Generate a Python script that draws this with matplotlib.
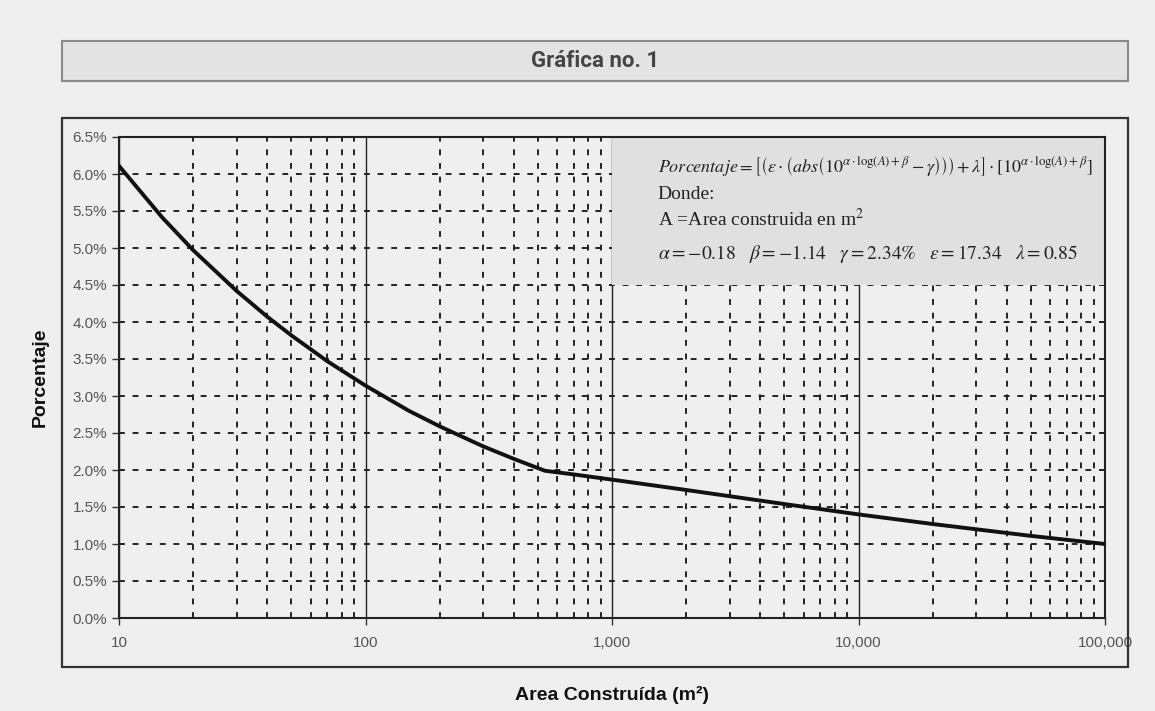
import matplotlib
matplotlib.use("Agg")
import matplotlib.pyplot as plt
from matplotlib.patches import Rectangle
from matplotlib.ticker import FixedLocator, FuncFormatter, NullFormatter

plt.rcParams['mathtext.fontset'] = 'stix'
plt.rcParams['font.family'] = ['Liberation Sans', 'DejaVu Sans']

# valores
area = [10, 15, 20, 30, 40, 50, 70, 100, 150, 200, 300, 400, 534,
        700, 1000, 2000, 5000, 10000, 20000, 50000, 100000]
porcentaje = [6.11, 5.41, 4.97, 4.42, 4.07, 3.82, 3.47, 3.14, 2.80, 2.59, 2.32, 2.15, 1.99,
              1.94, 1.87, 1.73, 1.54, 1.40, 1.27, 1.11, 1.00]

y_ticks = [0.0, 0.5, 1.0, 1.5, 2.0, 2.5, 3.0, 3.5, 4.0, 4.5, 5.0, 5.5, 6.0, 6.5]
x_major = [10, 100, 1000, 10000, 100000]
x_minor = [m * d for d in [10, 100, 1000, 10000] for m in range(2, 10)]

bg = '#efefef'
fig = plt.figure(figsize=(11.55, 7.11), dpi=100, facecolor=bg)

W, H = 1155, 711
def fx(px):
    return px / W
def fy(py):
    return 1 - py / H

# caja del titulo
fig.patches.append(Rectangle((fx(62), fy(81)), fx(1128) - fx(62), fy(41) - fy(81),
                             transform=fig.transFigure, facecolor='#e3e3e3',
                             edgecolor='#8a8a8a', lw=1.5))
fig.text(fx(595), fy(61), 'Gráfica no. 1', ha='center', va='center',
         fontsize=16, fontweight='bold', color='#444444', family=['Roboto', 'DejaVu Sans'])

# marco exterior
fig.patches.append(Rectangle((fx(62), fy(667)), fx(1128) - fx(62), fy(118) - fy(667),
                             transform=fig.transFigure, facecolor='none',
                             edgecolor='#333333', lw=1.6))

ax = fig.add_axes([fx(119), fy(618), fx(1105) - fx(119), fy(137) - fy(618)])
ax.set_facecolor(bg)
ax.set_xscale('log')
ax.set_xlim(10, 100000)
ax.set_ylim(0, 6.5)

ax.xaxis.set_major_locator(FixedLocator(x_major))
ax.xaxis.set_minor_locator(FixedLocator(x_minor))
ax.xaxis.set_major_formatter(FuncFormatter(lambda v, p: f'{int(v):,}'))
ax.xaxis.set_minor_formatter(NullFormatter())
ax.yaxis.set_major_locator(FixedLocator(y_ticks))
ax.yaxis.set_major_formatter(FuncFormatter(lambda v, p: f'{v:.1f}%'))

ax.grid(True, which='major', axis='x', color='#222222', lw=1.0, ls='-')
ax.grid(True, which='minor', axis='x', color='#222222', lw=1.4, ls=(0, (3, 4)))
ax.grid(True, which='major', axis='y', color='#222222', lw=1.4, ls=(0, (3, 4)))
ax.set_axisbelow(True)

ax.tick_params(axis='both', which='major', direction='out', length=5, width=1,
               colors='#333333', labelcolor='#555555', labelsize=11)
ax.tick_params(axis='x', which='minor', length=0)
ax.tick_params(axis='x', pad=8)
for s in ax.spines.values():
    s.set_color('#222222')
    s.set_linewidth(1.5)

# caja de la formula
ax.add_patch(Rectangle((1000, 4.5), 100000 - 1000, 2.0, facecolor='#e0e0e0',
                       edgecolor='none', zorder=2))

ax.plot(area, porcentaje, color='#111111', lw=2.8, zorder=3)

formula = (r'$Porcentaje=\left[\left(\varepsilon\cdot\left(abs\left(10^{\alpha\cdot\log(A)+\beta}'
           r'-\gamma\right)\right)\right)+\lambda\right]\cdot\left[10^{\alpha\cdot\log(A)+\beta}\right]$')
tx = 1530
ax.text(tx, 6.1, formula, fontsize=13, color='#222222', va='center', zorder=4)
ax.text(tx, 5.72, 'Donde:', fontsize=14, color='#222222', va='center', zorder=4,
        family='Liberation Serif')
ax.text(tx, 5.39, r'A =Area construida en m$^2$', fontsize=14, color='#222222', va='center',
        zorder=4, family='Liberation Serif')
ax.text(tx, 4.92, r'$\alpha=-0.18\quad\beta=-1.14\quad\gamma=2.34\%\quad\varepsilon=17.34\quad\lambda=0.85$',
        fontsize=14, color='#222222', va='center', zorder=4)

ax.set_xlabel('Area Construída (m²)', fontsize=14, fontweight='bold', color='#111111', labelpad=26)
ax.set_ylabel('Porcentaje', fontsize=14, fontweight='bold', color='#111111', labelpad=17)

fig.savefig('out.png', dpi=100, facecolor=bg)
